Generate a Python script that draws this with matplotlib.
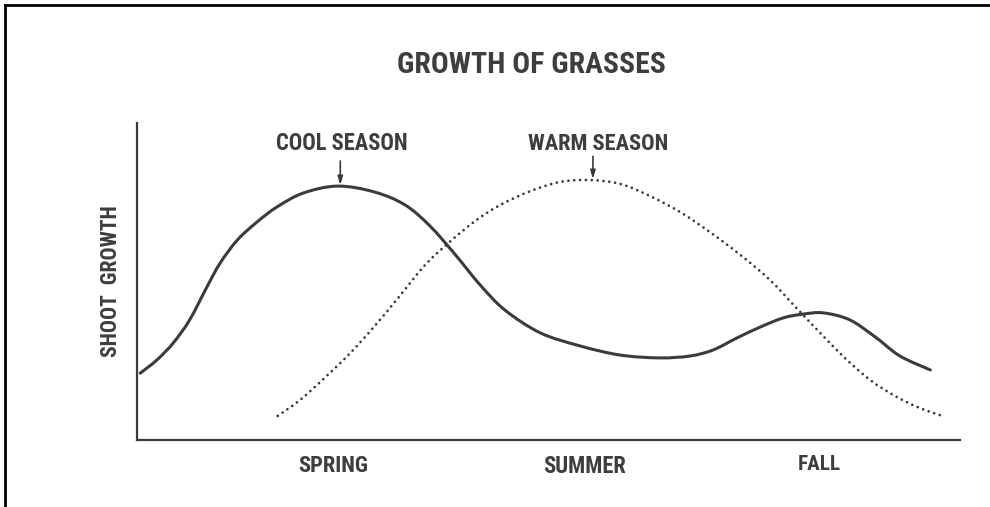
import matplotlib
matplotlib.use("Agg")
import matplotlib.pyplot as plt
from matplotlib.lines import Line2D
from matplotlib.path import Path
from matplotlib.patches import PathPatch
from matplotlib import font_manager as fm

# ---- pick a narrow / condensed font if one is installed
def pick_font():
    entries = fm.fontManager.ttflist
    names = {f.name for f in entries}
    for cand in ['Liberation Sans Narrow', 'Roboto Condensed', 'Open Sans Condensed',
                 'Noto Sans Condensed', 'DejaVu Sans Condensed']:
        if cand in names:
            return cand, 'normal'
    for f in entries:
        st = f.stretch
        if isinstance(st, str) and 'condensed' in st and f.style == 'normal':
            return f.name, st
        if isinstance(st, (int, float)) and st < 500 and f.style == 'normal':
            return f.name, st
    return 'DejaVu Sans', 'normal'

FONT, STRETCH = pick_font()
plt.rcParams['font.family'] = [FONT, 'DejaVu Sans']
plt.rcParams['font.stretch'] = STRETCH
plt.rcParams['font.weight'] = 'bold'
plt.rcParams['axes.labelweight'] = 'bold'

# ---- data (arbitrary units: x = time through the year 0-100, y = shoot growth 0-100)
cool_x = [0.4, 2.4, 4.4, 6.4, 8.5, 10.1, 12.2, 14.6, 17.0, 20.2, 24.4, 28.9, 32.6, 35.6,
          38.6, 41.7, 44.7, 49.0, 53.8, 58.7, 63.5, 67.2, 70.0, 72.9, 75.7, 78.5, 80.9,
          83.4, 86.6, 89.7, 92.7, 96.4]
cool_y = [21.1, 25.2, 30.6, 37.9, 48.3, 55.8, 63.1, 68.8, 73.5, 77.9, 80.1, 78.2, 74.1, 67.5,
          58.7, 48.9, 41.0, 33.8, 29.7, 26.8, 25.9, 26.5, 28.4, 32.2, 35.6, 38.5, 39.7,
          40.1, 37.9, 32.5, 26.5, 22.1]

warm_x = [17.1, 19.8, 22.8, 25.9, 28.9, 32.0, 35.0, 38.0, 41.1, 44.1, 47.8, 51.4, 55.0,
          58.7, 62.3, 66.0, 69.6, 73.3, 76.9, 80.0, 83.0, 86.0, 89.1, 92.1, 95.1, 98.2]
warm_y = [7.6, 12.6, 19.6, 27.4, 36.0, 45.7, 55.2, 62.5, 69.1, 74.1, 78.5, 81.4, 82.0,
          80.8, 77.0, 71.9, 65.6, 58.4, 50.5, 42.0, 33.8, 25.9, 18.9, 13.9, 10.1, 7.3]

season_labels = ["SPRING", "SUMMER", "FALL"]
season_pos = [23.8, 54.4, 82.9]

cool_peak = (24.7, 80.4)
warm_peak = (55.4, 82.3)
title = "GROWTH OF GRASSES"
ylabel = "SHOOT  GROWTH"

INK = '#3a3c3c'
TXT = '#3b3f3f'


def smooth_path(xs, ys):
    """Smooth curve through the read points (Catmull-Rom drawn as cubic Beziers)."""
    pts = list(zip(xs, ys))
    n = len(pts)
    verts = [pts[0]]
    codes = [Path.MOVETO]
    for i in range(n - 1):
        p0 = pts[i - 1] if i > 0 else pts[i]
        p1 = pts[i]
        p2 = pts[i + 1]
        p3 = pts[i + 2] if i + 2 < n else pts[i + 1]
        c1 = (p1[0] + (p2[0] - p0[0]) / 6.0, p1[1] + (p2[1] - p0[1]) / 6.0)
        c2 = (p2[0] - (p3[0] - p1[0]) / 6.0, p2[1] - (p3[1] - p1[1]) / 6.0)
        verts += [c1, c2, p2]
        codes += [Path.CURVE4] * 3
    return Path(verts, codes)


fig = plt.figure(figsize=(9.9, 5.07), dpi=100)
fig.patch.set_facecolor('white')
ax = fig.add_axes([137/990, (507-440)/507, 823/990, 317/507])
ax.set_xlim(0, 100)
ax.set_ylim(0, 100)

ax.add_patch(PathPatch(smooth_path(cool_x, cool_y), facecolor='none', edgecolor=INK,
                       lw=2.2, capstyle='round', joinstyle='round'))
ax.add_patch(PathPatch(smooth_path(warm_x, warm_y), facecolor='none', edgecolor=INK,
                       lw=2.0, linestyle=(0, (0.01, 2.1)), capstyle='round'))

for s in ['top', 'right']:
    ax.spines[s].set_visible(False)
for s in ['left', 'bottom']:
    ax.spines[s].set_color(INK)
    ax.spines[s].set_linewidth(1.6)

ax.set_yticks([])
ax.set_xticks(season_pos)
ax.set_xticklabels(season_labels, fontsize=16, color=TXT, fontweight='bold')
ax.tick_params(axis='x', length=0, pad=11)

ylab = ax.set_ylabel(ylabel, fontsize=16, color=TXT, labelpad=11, fontweight='bold')

t_cool = ax.text(24.9, 93.4, "COOL SEASON", fontsize=16, color=TXT, ha='center', va='center')
t_warm = ax.text(56.0, 93.4, "WARM SEASON", fontsize=16, color=TXT, ha='center', va='center')
arrow_style = dict(arrowstyle='-|>,head_length=0.5,head_width=0.15',
                   color=INK, lw=1.2, shrinkA=0, shrinkB=0)
ax.annotate('', xy=cool_peak, xytext=(cool_peak[0], 88.0), arrowprops=arrow_style)
ax.annotate('', xy=warm_peak, xytext=(warm_peak[0], 89.5), arrowprops=arrow_style)

t_title = fig.text(531/990, 1 - 65/507, title, fontsize=21, color=TXT,
                   ha='center', va='center')

# frame lines of the original scan
fig.add_artist(Line2D([5/990, 5/990], [0, 1 - 5/507], transform=fig.transFigure,
                      color='black', lw=2.0))
fig.add_artist(Line2D([5/990, 1], [1 - 5/507, 1 - 5/507], transform=fig.transFigure,
                      color='black', lw=2.0))

# fit text sizes to the widths seen in the reference (pixels)
fig.canvas.draw()
r = fig.canvas.get_renderer()
targets = [(t_title, 268, 'w'), (t_cool, 132, 'w'), (t_warm, 140, 'w'), (ylab, 152, 'h')]
for lbl, w in zip(ax.get_xticklabels(), [70, 83, 43]):
    targets.append((lbl, w, 'w'))
for t, w, mode in targets:
    bb = t.get_window_extent(r)
    cur = bb.width if mode == 'w' else bb.height
    if cur > 0:
        t.set_fontsize(t.get_fontsize() * w / cur)

fig.savefig('out.png', dpi=100, facecolor='white')
